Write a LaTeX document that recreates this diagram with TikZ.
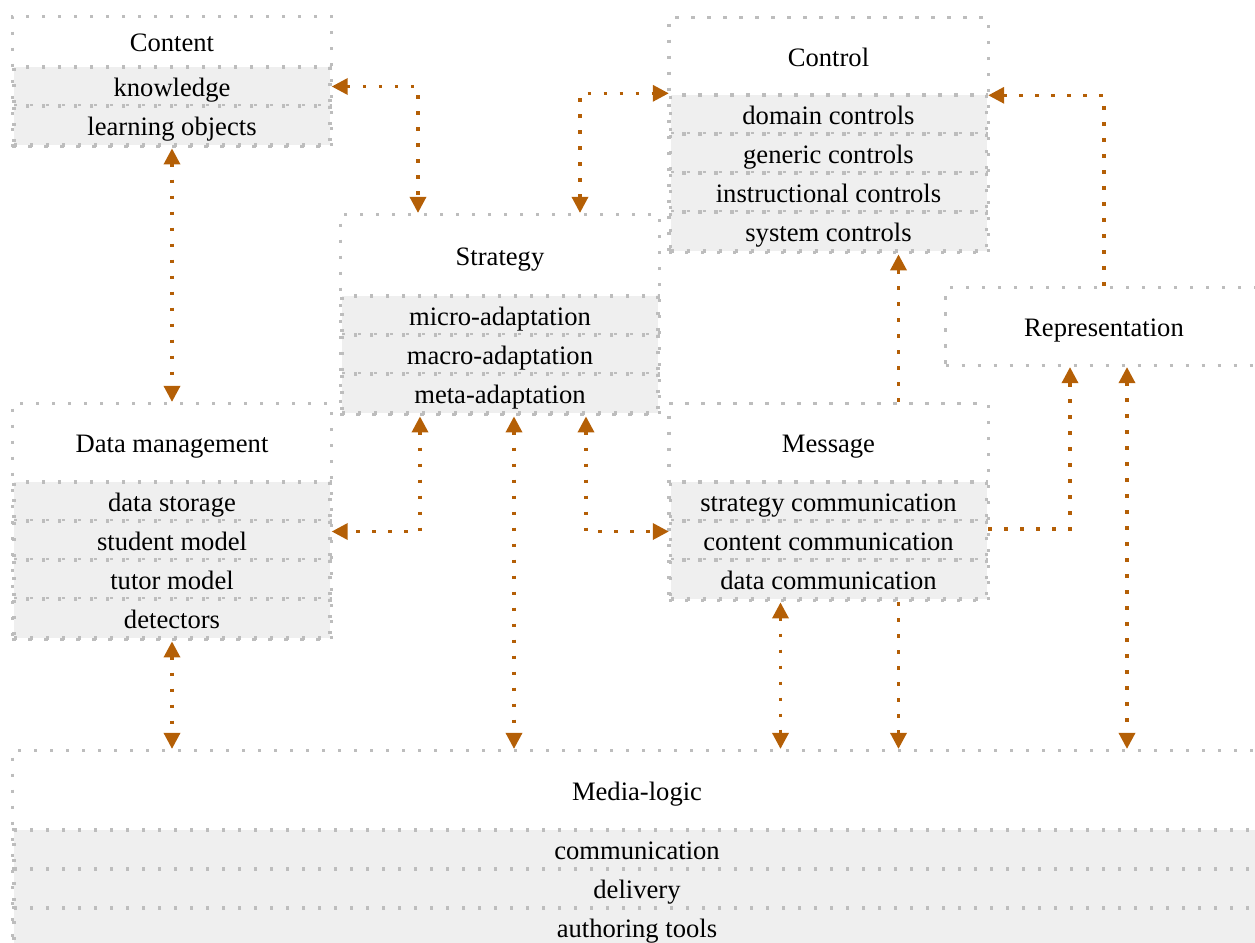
\documentclass[tikz,border=0pt]{standalone}
\usepackage{fontspec}
\setmainfont{Liberation Serif}
\usetikzlibrary{arrows.meta, fit, positioning}
\definecolor{rowgray}{HTML}{EFEFEF}
\definecolor{framegray}{HTML}{BDBDBD}
\definecolor{linkorange}{HTML}{B45F06}

\begin{document}
\begin{tikzpicture}[
    x=0.5pt, y=-0.5pt,
    font=\fontsize{13.3}{16}\selectfont,
    >={Triangle[width=8pt,length=8pt]},
    title/.style={minimum width=158pt,inner sep=0pt,text height=11pt,text depth=1.5pt},
    row/.style={draw=framegray,fill=rowgray,line width=1.7pt,dash pattern=on 1.7pt off 6.3pt,
      minimum width=158pt,minimum height=19.5pt,inner sep=0pt,text height=11pt,text depth=1.5pt},
    frame/.style={draw=framegray,line width=1.7pt,dash pattern=on 1.7pt off 6.3pt,inner sep=0pt},
    link/.style={draw=linkorange,line width=1.7pt,dash pattern=on 1.8pt off 6.2pt}]
  \useasboundingbox (0,0) rectangle (1255,943);
  \clip (0,0) rectangle (1255,943);
  % content
  \node[title,minimum height=25pt] at (172,42) (content) {Content};
  \node[row] at (172,86.5) (know) {knowledge};
  \node[row] at (172,125.5) (lobj) {learning objects};
  \node[frame,fit=(content)(lobj)] (contentbox) {};
  % control
  \node[title,minimum height=38.5pt] at (828.5,56.5) (ctrl) {Control};
  \node[row] at (828.5,114.5) (domc) {domain controls};
  \node[row] at (828.5,153.5) (genc) {generic controls};
  \node[row] at (828.5,192.5) (instc) {instructional controls};
  \node[row] at (828.5,231.5) (sysc) {system controls};
  \node[frame,fit=(ctrl)(sysc)] (ctrlbox) {};
  % strategy
  \node[title,minimum height=40.5pt] at (500,255.5) (strat) {Strategy};
  \node[row] at (500,315.5) (micro) {micro-adaptation};
  \node[row] at (500,354.5) (macro) {macro-adaptation};
  \node[row] at (500,393.5) (meta) {meta-adaptation};
  \node[frame,fit=(strat)(meta)] (stratbox) {};
  % representation
  \node[title,minimum height=38.5pt] at (1104,326.5) (repr) {Representation};
  \node[frame,fit=(repr)] (reprbox) {};
  % data management
  \node[title,minimum height=39pt] at (172,443) (data) {Data management};
  \node[row] at (172,501.5) (stor) {data storage};
  \node[row] at (172,540.5) (stud) {student model};
  \node[row] at (172,579.5) (tutor) {tutor model};
  \node[row] at (172,618.5) (detect) {detectors};
  \node[frame,fit=(data)(detect)] (databox) {};
  % message
  \node[title,minimum height=39pt] at (828.5,443) (msg) {Message};
  \node[row] at (828.5,501.5) (scom) {strategy communication};
  \node[row] at (828.5,540.5) (ccom) {content communication};
  \node[row] at (828.5,579.5) (dcom) {data communication};
  \node[frame,fit=(msg)(dcom)] (msgbox) {};
  % media-logic
  \node[title,minimum width=623pt,minimum height=39.5pt] at (637,790.5) (media) {Media-logic};
  \node[row,minimum width=623pt] at (637,849.5) (comm) {communication};
  \node[row,minimum width=623pt] at (637,888.5) (deliv) {delivery};
  \node[row,minimum width=623pt] at (637,927.5) (auth) {authoring tools};
  \node[frame,fit=(media)(auth)] (mediabox) {};
  % links
  \draw[link,<->] (know.east) -| ([xshift=-41pt]stratbox.north);
  \draw[link,<->] ([xshift=40pt]stratbox.north) |- (domc.north west);
  \draw[link,->] (reprbox.north) |- ([yshift=-1pt]domc.north east);
  \draw[link,<->] (contentbox.south) -- (databox.north);
  \draw[link,->] ([xshift=35pt]msgbox.north) -- ([xshift=35pt]ctrlbox.south);
  \draw[link,<->] ([xshift=-40pt]stratbox.south) |- ([yshift=4.5pt]stud.east);
  \draw[link,<->] ([xshift=7pt]stratbox.south) -- ([xshift=7pt]stratbox.south |- mediabox.north);
  \draw[link,<->] ([xshift=43pt]stratbox.south) |- ([yshift=4.5pt]ccom.west);
  \draw[link,->] ([yshift=5.75pt]ccom.east) -| ([xshift=-17pt]reprbox.south);
  \draw[link,<->] ([xshift=11.5pt]reprbox.south) -- ([xshift=11.5pt]reprbox.south |- mediabox.north);
  \draw[link,<->] (databox.south) -- (databox.south |- mediabox.north);
  \draw[link,<->] ([xshift=-24pt]msgbox.south) -- ([xshift=-24pt]msgbox.south |- mediabox.north);
  \draw[link,->] ([xshift=35pt]msgbox.south) -- ([xshift=35pt]msgbox.south |- mediabox.north);
\end{tikzpicture}
\end{document}
